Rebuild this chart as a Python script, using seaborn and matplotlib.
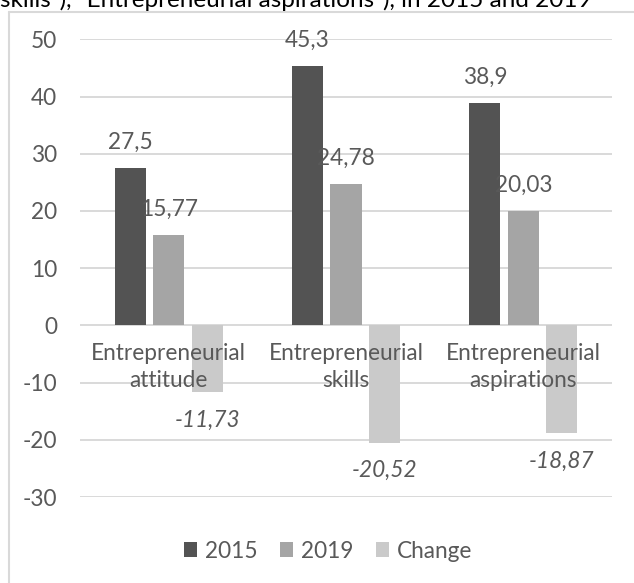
import matplotlib
matplotlib.use("Agg")
import matplotlib.pyplot as plt
from matplotlib.lines import Line2D
import seaborn as sns
import pandas as pd

categories = ["Entrepreneurial\nattitude", "Entrepreneurial\nskills", "Entrepreneurial\naspirations"]
series_names = ["2015", "2019", "Change"]
values_2015 = [27.5, 45.3, 38.9]
values_2019 = [15.77, 24.78, 20.03]
values_change = [-11.73, -20.52, -18.87]
y_ticks = [-30, -20, -10, 0, 10, 20, 30, 40, 50]
title_text = "skills\u201d), \u201cEntrepreneurial aspirations\u201d), in 2015 and 2019"

colors = ["#535353", "#A5A5A5", "#CACACA"]
text_color = "#595959"

rows = []
for name, vals in zip(series_names, [values_2015, values_2019, values_change]):
    for c, v in zip(categories, vals):
        rows.append({"category": c, "series": name, "value": v})
df = pd.DataFrame(rows)

sns.set_theme(style="white")
plt.rcParams["font.family"] = ["Lato", "DejaVu Sans"]
FS = 16.3

W, H = 634, 583
fig = plt.figure(figsize=(W / 100, H / 100), dpi=100)
ax = fig.add_axes([80 / W, 1 - 497 / H, 532 / W, 457.7 / H])

sns.barplot(data=df, x="category", y="value", hue="series", order=categories,
            hue_order=series_names, palette=colors, width=0.65, gap=0.19,
            saturation=1, ax=ax, legend=True, linewidth=0)

ax.set_ylim(-30, 50)
ax.set_yticks(y_ticks)
ax.set_yticklabels([str(t) for t in y_ticks])
ax.yaxis.grid(True, color="#D9D9D9", lw=1.4)
ax.set_axisbelow(True)
ax.xaxis.set_zorder(5)
for s in ax.spines.values():
    s.set_visible(False)
ax.spines["bottom"].set_position(("data", 0))
ax.tick_params(axis="y", length=0, pad=16.5, labelsize=FS, labelcolor=text_color)
ax.tick_params(axis="x", length=0, pad=13, labelsize=FS, labelcolor=text_color)
ax.set_xlabel("")
ax.set_ylabel("")
for lab in ax.get_xticklabels():
    lab.set_linespacing(1.3)

def fmt(v):
    return ("%g" % v).replace(".", ",")

for i, cont in enumerate(ax.containers):
    for bar in cont:
        h = bar.get_height()
        xc = bar.get_x() + bar.get_width() / 2
        if h >= 0:
            ax.annotate(fmt(h), (xc, h), xytext=(0, 18.5), textcoords="offset points",
                        ha="center", va="center", fontsize=FS, color=text_color)
        else:
            ax.annotate(fmt(h), (xc, h), xytext=(0, -20), textcoords="offset points",
                        ha="center", va="center", fontsize=FS, color=text_color,
                        style="italic")

sns.move_legend(ax, "center", bbox_to_anchor=(328 / W, 1 - 551 / H),
                bbox_transform=fig.transFigure, ncol=3, frameon=False, title=None,
                fontsize=FS, handlelength=0.58, handleheight=0.58, handletextpad=0.35,
                columnspacing=1.0, labelcolor=text_color)

fig.add_artist(Line2D([8.5 / W, 8.5 / W], [0, 1 - 12 / H], transform=fig.transFigure,
                      color="#D9D9D9", lw=1.5))
fig.add_artist(Line2D([8.5 / W, 1], [1 - 12 / H, 1 - 12 / H], transform=fig.transFigure,
                      color="#D9D9D9", lw=1.5))
fig.text(0, 1 - 7 / H, title_text, ha="left", va="baseline", fontsize=17.5, color="black")

fig.savefig("out.png", dpi=100)
